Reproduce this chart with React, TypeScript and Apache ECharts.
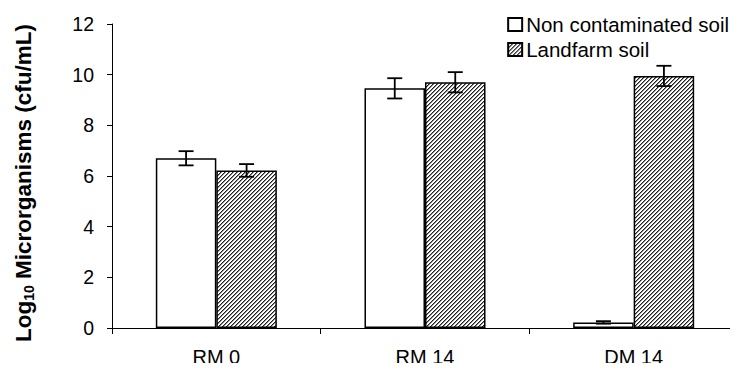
import React, { useEffect, useRef } from "react";
import * as echarts from "echarts";

const categories = ["RM 0", "RM 14", "DM 14"];
const nonContaminated = [6.7, 9.46, 0.22];
const nonContaminatedErr = [0.28, 0.4, 0.05];
const landfarm = [6.22, 9.7, 9.95];
const landfarmErr = [0.25, 0.4, 0.4];
const seriesNames = ["Non contaminated soil", "Landfarm soil"];

const FONT = "Liberation Sans, Arial, sans-serif";

function makeHatch(): HTMLCanvasElement {
  const c = document.createElement("canvas");
  c.width = 4;
  c.height = 4;
  const ctx = c.getContext("2d")!;
  const img = ctx.createImageData(4, 4);
  for (let y = 0; y < 4; y++) {
    for (let x = 0; x < 4; x++) {
      const i = (y * 4 + x) * 4;
      const k = (x + y) % 4;
      const v = k === 0 ? 30 : k === 1 ? 140 : 255;
      img.data[i] = v;
      img.data[i + 1] = v;
      img.data[i + 2] = v;
      img.data[i + 3] = 255;
    }
  }
  ctx.putImageData(img, 0, 0);
  return c;
}

export default function App() {
  const ref = useRef<HTMLDivElement>(null);
  useEffect(() => {
    if (!ref.current) return;
    const chart = echarts.init(ref.current, undefined, { renderer: "svg" });
    const hatch = makeHatch();
    const errData: number[][] = [];
    categories.forEach((_, i) => {
      errData.push([i, nonContaminated[i] - nonContaminatedErr[i], nonContaminated[i] + nonContaminatedErr[i], -1]);
      errData.push([i, landfarm[i] - landfarmErr[i], landfarm[i] + landfarmErr[i], 1]);
    });
    const BAR_FRAC = 0.29;
    chart.setOption({
      animation: false,
      textStyle: { fontFamily: FONT },
      grid: { left: 112, right: -5, top: 24, bottom: 43, containLabel: false },
      legend: {
        orient: "vertical",
        right: 4,
        top: 9,
        icon: "rect",
        itemWidth: 14,
        itemHeight: 13,
        itemGap: 4,
        align: "left",
        data: seriesNames,
        textStyle: { fontSize: 20.5, color: "#000", fontFamily: FONT, padding: [0, 0, 0, -1] },
      },
      xAxis: {
        type: "category",
        data: categories,
        axisLine: { lineStyle: { color: "#000", width: 1 } },
        axisTick: { show: true, length: 6, lineStyle: { color: "#000" } },
        axisLabel: { fontSize: 20, color: "#000", margin: 19, fontFamily: FONT },
      },
      yAxis: {
        type: "value",
        min: 0,
        max: 12,
        interval: 2,
        splitLine: { show: false },
        axisLine: { show: true, lineStyle: { color: "#000", width: 1 } },
        axisTick: { show: true, length: 5, lineStyle: { color: "#000" } },
        axisLabel: { fontSize: 19.5, color: "#000", margin: 18, fontFamily: FONT },
        name: "{b|Log}{s|10}{b| Microrganisms (cfu/mL)}",
        nameLocation: "middle",
        nameGap: 76,
        nameTextStyle: {
          padding: [0, 14, 0, 0],
          rich: {
            b: { fontWeight: "bold", fontSize: 22.5, color: "#000", lineHeight: 26, fontFamily: FONT },
            s: { fontWeight: "bold", fontSize: 14, color: "#000", lineHeight: 15, verticalAlign: "bottom", fontFamily: FONT },
          },
        },
      },
      series: [
        {
          name: seriesNames[0],
          type: "bar",
          data: nonContaminated,
          barGap: "0%",
          barCategoryGap: "42%",
          itemStyle: { color: "#fff", borderColor: "#000", borderWidth: 1.5 },
        },
        {
          name: seriesNames[1],
          type: "bar",
          data: landfarm,
          barGap: "0%",
          barCategoryGap: "42%",
          itemStyle: { color: { image: hatch, repeat: "repeat" }, borderColor: "#000", borderWidth: 1.5 },
        },
        {
          type: "custom",
          name: "err",
          data: errData,
          encode: { x: 0, y: [1, 2] },
          z: 10,
          renderItem: (params: any, api: any) => {
            const ci = api.value(0);
            const lo = api.value(1);
            const hi = api.value(2);
            const side = api.value(3);
            const band = api.size([1, 0])[0];
            const off = (side * band * BAR_FRAC) / 2;
            const pLo = api.coord([ci, lo]);
            const pHi = api.coord([ci, hi]);
            const x = pLo[0] + off;
            const cap = 7.5;
            const st = { stroke: "#000", lineWidth: 1.8 };
            return {
              type: "group",
              children: [
                { type: "line", shape: { x1: x, y1: pLo[1], x2: x, y2: pHi[1] }, style: st },
                { type: "line", shape: { x1: x - cap, y1: pHi[1], x2: x + cap, y2: pHi[1] }, style: st },
                { type: "line", shape: { x1: x - cap, y1: pLo[1], x2: x + cap, y2: pLo[1] }, style: st },
              ],
            };
          },
        },
      ],
    });
    return () => chart.dispose();
  }, []);
  return <div ref={ref} style={{ width: 738, height: 371, margin: -8 }} />;
}
